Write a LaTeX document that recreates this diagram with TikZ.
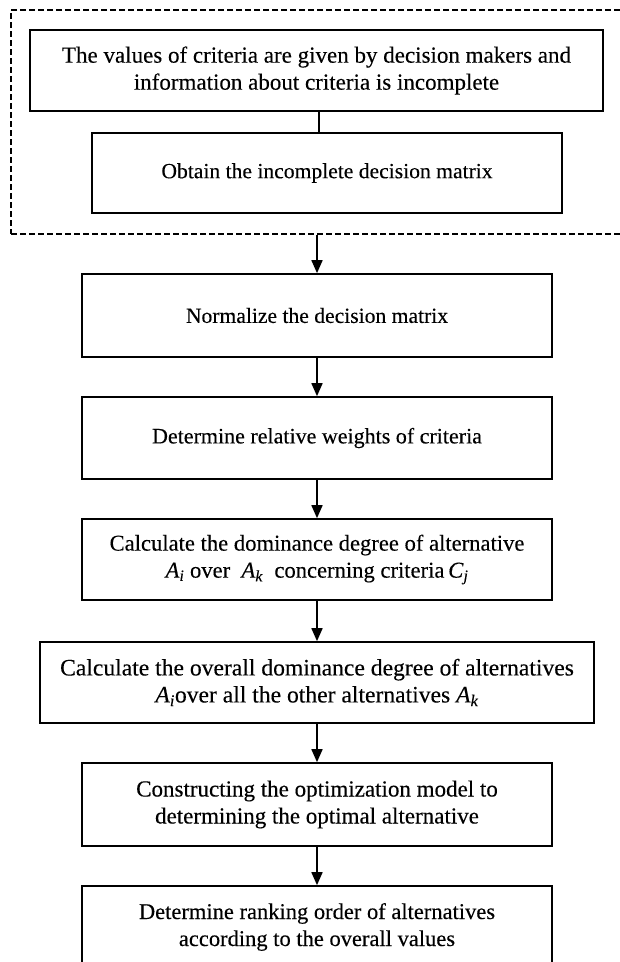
\documentclass[tikz,border=0pt]{standalone}
\usepackage{fontspec}
\setmainfont{Liberation Serif}[FakeBold=0.25]
\usetikzlibrary{arrows.meta,fit}
\newcommand{\mvar}[2]{\textit{#1}\textsubscript{\textit{#2}}}
\begin{document}
\begin{tikzpicture}[x=1pt,y=-1pt,
  boxstyle/.style={draw, line width=1.7pt, rectangle, align=center, inner sep=0pt},
  arr/.style={line width=1.7pt, -{Triangle[length=13pt,width=11pt]}},
  lnk/.style={line width=1.7pt}]
\useasboundingbox (0,0) rectangle (620,962);
\clip (0,0) rectangle (620,962);
\fill[white] (0,0) rectangle (620,962);
\coordinate (g1) at (11,10);
\coordinate (g2) at (640,234);
\node[fit=(g1)(g2), inner sep=0pt, draw, dash pattern=on 6pt off 3pt, line width=1.5pt] (grp) {};
\node[boxstyle, minimum width=573pt, minimum height=81pt, font=\fontsize{23}{27}\selectfont] (b1) at (316.5,70.5)
  {The values of criteria are given by decision makers and\\information about criteria is incomplete};
\node[boxstyle, minimum width=470pt, minimum height=80pt, font=\fontsize{21.6}{26}\selectfont] (b2) at (327,173)
  {Obtain the incomplete decision matrix};
\node[boxstyle, minimum width=470pt, minimum height=83pt, font=\fontsize{21.6}{26}\selectfont] (b3) at (317,315.5)
  {Normalize the decision matrix};
\node[boxstyle, minimum width=470pt, minimum height=82pt, font=\fontsize{22}{26}\selectfont] (b4) at (317,438)
  {Determine relative weights of criteria};
\node[boxstyle, minimum width=470pt, minimum height=81pt, font=\fontsize{22.6}{27}\selectfont] (b5) at (317,559.5)
  {Calculate the dominance degree of alternative\\\mvar{A}{i} over \ \mvar{A}{k} \ concerning criteria\,\mvar{C}{j}};
\node[boxstyle, minimum width=554pt, minimum height=81pt, font=\fontsize{23.6}{27}\selectfont] (b6) at (317,682.5)
  {Calculate the overall dominance degree of alternatives\\\mvar{A}{i}over all the other alternatives \mvar{A}{k}};
\node[boxstyle, minimum width=470pt, minimum height=83pt, font=\fontsize{23}{27}\selectfont] (b7) at (317,804.5)
  {Constructing the optimization model to\\determining the optimal alternative};
\node[boxstyle, minimum width=470pt, minimum height=82pt, font=\fontsize{22.5}{27}\selectfont] (b8) at (317,927)
  {Determine ranking order of alternatives\\according to the overall values};
\draw[lnk] ([xshift=2.5pt]b1.south) -- ([xshift=2.5pt]b1.south |- b2.north);
\draw[arr] (b3.north |- grp.south) -- (b3.north);
\draw[arr] (b3) -- (b4);
\draw[arr] (b4) -- (b5);
\draw[arr] (b5) -- (b6);
\draw[arr] (b6) -- (b7);
\draw[arr] (b7) -- (b8);
\end{tikzpicture}
\end{document}
